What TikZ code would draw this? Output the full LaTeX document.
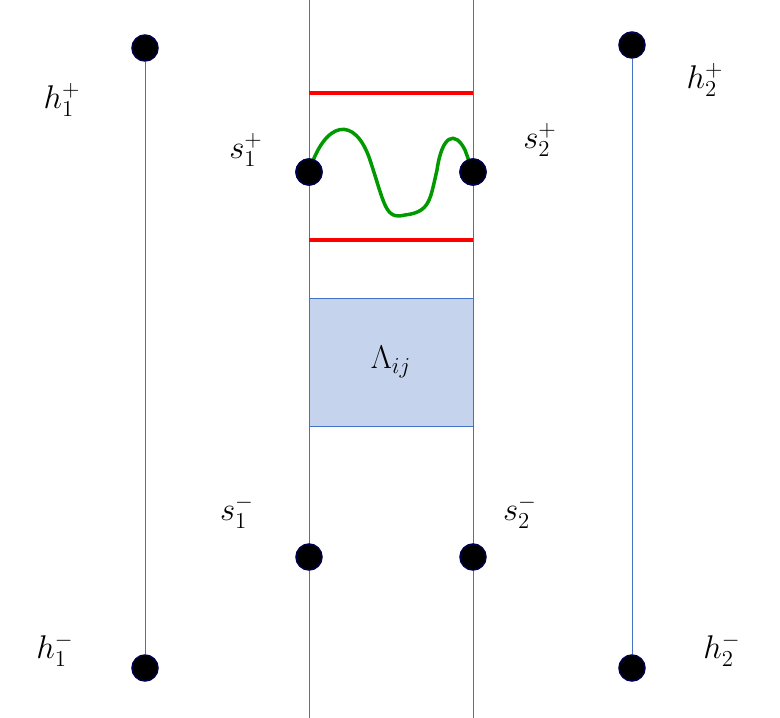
\documentclass[tikz,border=0pt]{standalone}
\usepackage{graphicx}
\newcommand{\biglab}[1]{\scalebox{1.9}{\LARGE$#1$}}
\begin{document}
\begin{tikzpicture}[x=1pt,y=-1pt,
  dot/.style={circle,fill=black,draw=blue!30!black,line width=1.5pt,minimum size=26pt,inner sep=0},
  lab/.style={inner sep=0}]
\definecolor{boxc}{HTML}{C5D3EC}
\definecolor{lin}{HTML}{4472C4}
\useasboundingbox (0,0) rectangle (780,718);
\coordinate (t1) at (309,0); \coordinate (b1) at (309,718);
\coordinate (t2) at (473,0); \coordinate (b2) at (473,718);
\node[draw=lin,line width=1pt,fill=boxc,minimum width=164pt,minimum height=128pt,inner sep=0] (L) at (391,362) {\biglab{\Lambda_{ij}}};
\draw[draw=lin,line width=1pt] (t1)--(b1) (t2)--(b2);
\node[dot] (h1p) at (145,48) {}; \node[dot] (h1m) at (145,668) {};
\node[dot] (h2p) at (632,45) {}; \node[dot] (h2m) at (632,668) {};
\draw[draw=lin,line width=1pt] (h1p)--(h1m) (h2p)--(h2m);
\coordinate (r1a) at (309,93); \coordinate (r1b) at (473,93);
\coordinate (r2a) at (309,240); \coordinate (r2b) at (473,240);
\draw[red,line width=4pt] (r1a)--(r1b) (r2a)--(r2b);
\node[dot] (s1p) at (309,172) {}; \node[dot] (s2p) at (473,172) {};
\node[dot] (s1m) at (309,557) {}; \node[dot] (s2m) at (473,557) {};
\draw[green!60!black,line width=3.5pt] (s1p.center) .. controls (325,120) and (355,115) .. (370,160) .. controls (385,205) and (385,220) .. (405,215) .. controls (430,212) and (430,200) .. (437,170) .. controls (442,135) and (455,130) .. (465,150) -- (s2p.center);
\node[dot] at (309,172) {}; \node[dot] at (473,172) {};
\node[lab] (lh1p) at (62,100) {\biglab{h_1^+}};
\node[lab] (ls1p) at (246,150) {\biglab{s_1^+}};
\node[lab] (ls2p) at (540,140) {\biglab{s_2^+}};
\node[lab] (lh2p) at (705,80) {\biglab{h_2^+}};
\node[lab] (ls1m) at (237,512) {\biglab{s_1^-}};
\node[lab] (ls2m) at (520,512) {\biglab{s_2^-}};
\node[lab] (lh1m) at (55,650) {\biglab{h_1^-}};
\node[lab] (lh2m) at (722,650) {\biglab{h_2^-}};
\end{tikzpicture}
\end{document}
